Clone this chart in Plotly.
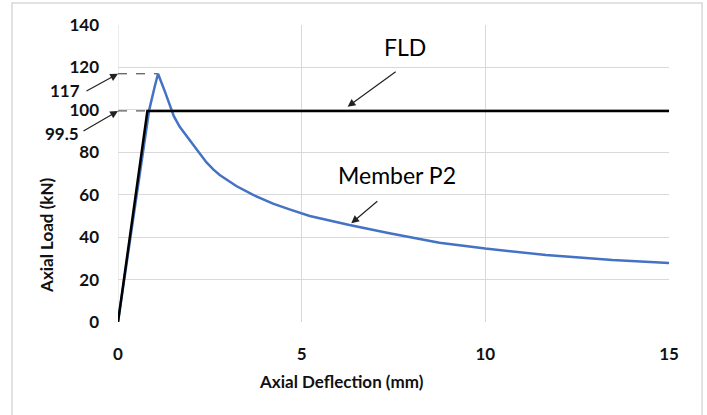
import plotly.graph_objects as go

# Member P2 load-deflection response
p2_deflection = [0.0, 0.30, 0.60, 0.85, 1.00, 1.09, 1.28, 1.40, 1.52, 1.68, 1.96, 2.20, 2.41,
                 2.60, 2.77, 3.00, 3.09, 3.22, 3.68, 4.22, 4.67, 5.22, 6.30, 7.39, 8.75,
                 10.0, 11.65, 13.46, 15.0]
p2_load = [0.0, 35.0, 70.0, 100.0, 111.0, 117.0, 108.5, 102.5, 97.0, 92.0, 85.8, 80.0, 75.2,
           71.8, 69.3, 66.6, 65.4, 64.1, 59.9, 55.8, 53.1, 50.0, 45.7, 41.8, 37.4,
           34.6, 31.6, 29.2, 27.8]

# FLD idealised response
fld_deflection = [0.0, 0.80, 15.0]
fld_load = [0.0, 99.5, 99.5]

peak_load = 117
peak_deflection = 1.09
fld_plateau = 99.5
fld_yield_deflection = 0.80

x_ticks = [0, 5, 10, 15]
y_ticks = [0, 20, 40, 60, 80, 100, 120, 140]

label_font = dict(family="Lato", size=17, color="#111111")
callout_font = dict(family="Lato", size=23, color="#000000")

fig = go.Figure()

# dashed leaders to the y-axis
fig.add_trace(go.Scatter(x=[0, peak_deflection], y=[peak_load, peak_load], mode="lines",
                         line=dict(color="#333333", width=1, dash="dash"),
                         hoverinfo="skip", showlegend=False))
fig.add_trace(go.Scatter(x=[0, fld_yield_deflection], y=[fld_plateau, fld_plateau], mode="lines",
                         line=dict(color="#333333", width=1, dash="dash"),
                         hoverinfo="skip", showlegend=False))

fig.add_trace(go.Scatter(x=p2_deflection, y=p2_load, mode="lines", name="Member P2",
                         line=dict(color="#4472C4", width=2.5), showlegend=False))
fig.add_trace(go.Scatter(x=fld_deflection, y=fld_load, mode="lines", name="FLD",
                         line=dict(color="#000000", width=2.5), showlegend=False))

axis_common = dict(showgrid=True, gridcolor="#d9d9d9", gridwidth=1, zeroline=False,
                   showline=False, ticks="", tickfont=dict(family="Lato", size=17,
                   color="#111111", weight="bold"))

fig.update_xaxes(range=[0, 15], tickvals=x_ticks, ticklabelstandoff=20, **axis_common)
fig.update_yaxes(range=[0, 140], tickvals=y_ticks, ticklabelstandoff=18, **axis_common)

arrow_style = dict(text="", showarrow=True, arrowhead=2, arrowsize=1.3, arrowwidth=1.2,
                   arrowcolor="#222222")

annotations = [
    dict(x=0.405, y=-0.199, xref="paper", yref="paper", text="<b>Axial Deflection (mm)</b>",
         xanchor="center", yanchor="middle", showarrow=False, font=label_font),
    dict(x=-0.129, y=0.293, xref="paper", yref="paper", text="<b>Axial Load (kN)</b>",
         xanchor="center", yanchor="middle", textangle=-90, showarrow=False, font=label_font),
    dict(x=7.8, y=129.5, xref="x", yref="y", text="FLD", xanchor="center", yanchor="middle",
         showarrow=False, font=callout_font),
    dict(x=7.6, y=69.5, xref="x", yref="y", text="Member P2", xanchor="center",
         yanchor="middle", showarrow=False, font=callout_font),
    dict(x=6.25, y=101.5, ax=7.6, ay=118.5, xref="x", yref="y", axref="x", ayref="y",
         **arrow_style),
    dict(x=6.35, y=46.5, ax=7.1, ay=57.5, xref="x", yref="y", axref="x", ayref="y",
         **arrow_style),
    dict(x=0, y=peak_load, ax=-33, ay=18, xref="x", yref="y", **arrow_style),
    dict(x=0, y=fld_plateau, ax=-36, ay=21, xref="x", yref="y", **arrow_style),
    dict(x=-0.0962, y=0.778, xref="paper", yref="paper", text="<b>117</b>",
         xanchor="center", yanchor="middle", showarrow=False, font=label_font),
    dict(x=-0.1016, y=0.633, xref="paper", yref="paper", text="<b>99.5</b>",
         xanchor="center", yanchor="middle", showarrow=False, font=label_font),
]

fig.update_layout(
    width=707, height=415,
    margin=dict(l=118, r=38, t=25, b=93),
    paper_bgcolor="white", plot_bgcolor="white",
    annotations=annotations,
    shapes=[
        dict(type="rect", xref="paper", yref="paper", x0=-0.1924, x1=1.06, y0=-0.35, y1=1.074,
             line=dict(color="#d9d9d9", width=1.5), layer="below"),
        dict(type="line", xref="x", yref="paper", x0=0, x1=0, y0=0, y1=1,
             line=dict(color="#d9d9d9", width=1), layer="below"),
    ],
)

fig.write_html("out.html")
